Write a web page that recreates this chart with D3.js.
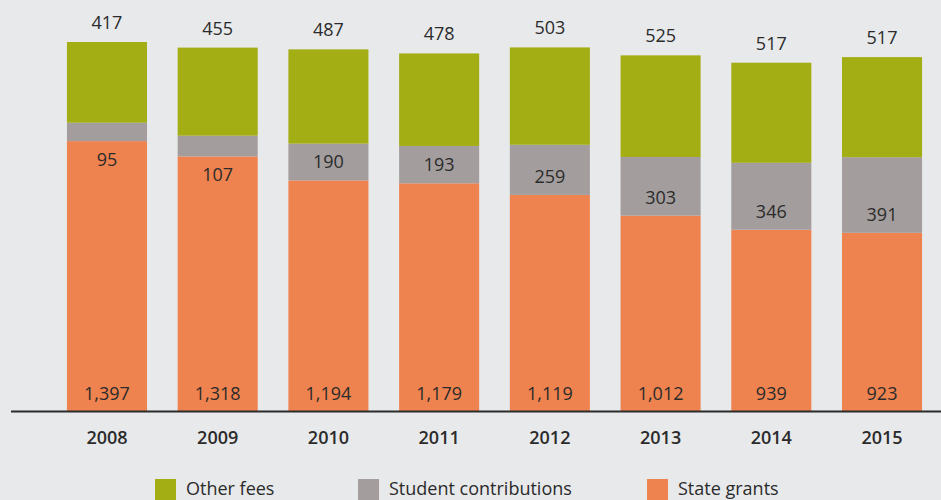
<!DOCTYPE html>
<html>
<head>
<meta charset="utf-8">
<script src="https://cdn.jsdelivr.net/npm/d3@7"></script>
<style>
  html, body { margin: 0; padding: 0; background: #e8e9eb; }
  svg { display: block; font-family: "Open Sans", "Noto Sans", sans-serif; }
</style>
</head>
<body>
<div id="chart"></div>
<script>
var years = ["2008", "2009", "2010", "2011", "2012", "2013", "2014", "2015"]
var stateGrants = [1397, 1318, 1194, 1179, 1119, 1012, 939, 923]
var studentContributions = [95, 107, 190, 193, 259, 303, 346, 391]
var otherFees = [417, 455, 487, 478, 503, 525, 517, 517]

var seriesNames = ["State grants", "Student contributions", "Other fees"]
var colors = ["#ef834f", "#a39e9d", "#a3ad14"]

var width = 941
var height = 500
var baseline = 411.5

var svg = d3.select("#chart")
  .append("svg")
  .attr("width", width)
  .attr("height", height);

var rows = years.map(function(y, i) {
  return { year: y, s0: stateGrants[i], s1: studentContributions[i], s2: otherFees[i] };
});

var stack = d3.stack().keys(["s0", "s1", "s2"]);
var layers = stack(rows);

var x = d3.scaleBand()
  .domain(years)
  .range([51.6, 937.4])
  .paddingInner(0.277)
  .paddingOuter(0.1385);

var y = d3.scaleLinear()
  .domain([0, 1909])
  .range([baseline, 42]);

var fmt = d3.format(",");

// bars
var g = svg.append("g");
layers.forEach(function(layer, li) {
  g.selectAll(".bar" + li)
    .data(layer)
    .enter().append("rect")
      .attr("x", function(d) { return x(d.data.year); })
      .attr("y", function(d) { return y(d[1]); })
      .attr("width", x.bandwidth())
      .attr("height", function(d) { return y(d[0]) - y(d[1]); })
      .attr("fill", colors[li]);
});

// labels
var labels = svg.append("g")
  .attr("font-size", 18)
  .attr("fill", "#2b2b2b")
  .attr("text-anchor", "middle");

labels.selectAll(".lab0")
  .data(layers[0])
  .enter().append("text")
    .attr("x", function(d) { return x(d.data.year) + x.bandwidth() / 2; })
    .attr("y", baseline - 12)
    .text(function(d) { return fmt(d.data.s0); });

labels.selectAll(".lab1")
  .data(layers[1])
  .enter().append("text")
    .attr("x", function(d) { return x(d.data.year) + x.bandwidth() / 2; })
    .attr("y", function(d) {
      var h = y(d[0]) - y(d[1]);
      return h < 25 ? y(d[0]) + 25 : y(d[0]) - 12;
    })
    .text(function(d) { return fmt(d.data.s1); });

labels.selectAll(".lab2")
  .data(layers[2])
  .enter().append("text")
    .attr("x", function(d) { return x(d.data.year) + x.bandwidth() / 2; })
    .attr("y", function(d) { return y(d[1]) - 13; })
    .text(function(d) { return fmt(d.data.s2); });

// x axis
var xAxis = svg.append("g")
  .attr("transform", "translate(0," + baseline + ")")
  .call(d3.axisBottom(x).tickSize(0).tickPadding(20));
xAxis.select(".domain").remove();
xAxis.selectAll("text")
  .attr("font-size", 18)
  .attr("font-weight", 600)
  .attr("font-family", "\"Open Sans\", sans-serif")
  .attr("fill", "#2b2b2b");

svg.append("line")
  .attr("x1", 11)
  .attr("x2", width)
  .attr("y1", baseline)
  .attr("y2", baseline)
  .attr("stroke", "#2b2b2b")
  .attr("stroke-width", 2);

// legend
var legendItems = [
  { name: seriesNames[2], color: colors[2], x: 155 },
  { name: seriesNames[1], color: colors[1], x: 358 },
  { name: seriesNames[0], color: colors[0], x: 647 }
];
var legend = svg.append("g")
  .selectAll("g")
  .data(legendItems)
  .enter().append("g")
    .attr("transform", function(d) { return "translate(" + d.x + ",479)"; });
legend.append("rect")
  .attr("width", 21)
  .attr("height", 21)
  .attr("fill", function(d) { return d.color; });
legend.append("text")
  .attr("x", 31)
  .attr("y", 16)
  .attr("font-size", 18)
  .attr("fill", "#2b2b2b")
  .text(function(d) { return d.name; });
</script>
</body>
</html>
